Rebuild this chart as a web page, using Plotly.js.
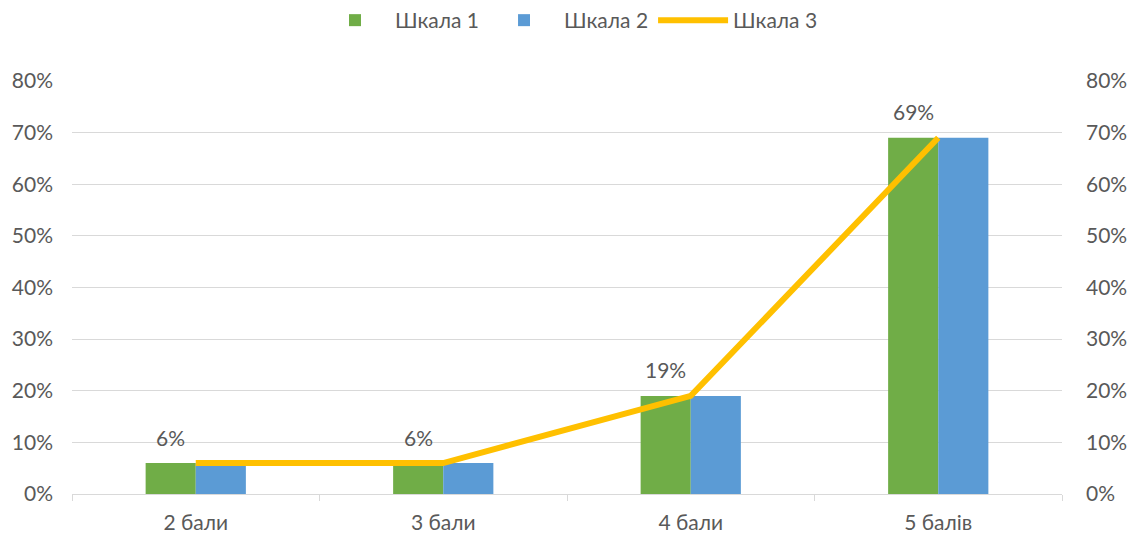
<!DOCTYPE html>
<html>
<head>
<meta charset="utf-8">
<script src="https://cdn.plot.ly/plotly-3.0.1.min.js"></script>
<style>html,body{margin:0;padding:0;background:#fff;}#chart{width:1138px;height:538px;}</style>
</head>
<body>
<div id="chart"></div>
<script>
const categories = ["2 бали", "3 бали", "4 бали", "5 балів"];
const scale1 = [0.06, 0.06, 0.19, 0.69];
const scale2 = [0.06, 0.06, 0.19, 0.69];
const scale3 = [0.06, 0.06, 0.19, 0.69];
const seriesNames = ["Шкала 1", "Шкала 2", "Шкала 3"];
const labels = ["6%", "6%", "19%", "69%"];

const FONT = "Lato, Carlito, 'Open Sans', sans-serif";
const FS = 21;
const TXT = "#595959";
const GRID = "#D9D9D9";

const traces = [
  {type: "bar", name: seriesNames[0], x: categories, y: scale1, marker: {color: "#70AD47"}, hoverinfo: "skip"},
  {type: "bar", name: seriesNames[1], x: categories, y: scale2, marker: {color: "#5B9BD5"}, hoverinfo: "skip"},
  {type: "scatter", mode: "lines", name: seriesNames[2], x: categories, y: scale3, yaxis: "y2",
   line: {color: "#FFC000", width: 6}, hoverinfo: "skip"}
];

const annotations = categories.map((c, i) => ({
  x: c, y: scale1[i], xref: "x", yref: "y", text: labels[i], showarrow: false,
  xshift: -25, yshift: 26, yanchor: "middle", font: {family: FONT, size: FS, color: TXT}
}));

const axisY = {
  range: [0, 0.8], tickvals: [0, 0.1, 0.2, 0.3, 0.4, 0.5, 0.6, 0.7, 0.8], tickformat: ".0%",
  showgrid: true, gridcolor: GRID, gridwidth: 1, zeroline: false, showline: false, ticks: "",
  tickfont: {family: FONT, size: FS, color: TXT}, fixedrange: true
};

const layout = {
  width: 1138, height: 538,
  margin: {l: 72, r: 76, t: 81, b: 44},
  paper_bgcolor: "#fff", plot_bgcolor: "#fff",
  font: {family: FONT, size: FS, color: TXT},
  barmode: "group", bargap: 0.595, bargroupgap: 0,
  showlegend: true,
  legend: {orientation: "h", xref: "container", x: 0.5, xanchor: "center", yref: "container", y: 1, yanchor: "top",
           font: {family: FONT, size: FS, color: TXT}, traceorder: "normal", itemwidth: 70},
  xaxis: {
    type: "category", showgrid: false, zeroline: false, showline: true, linecolor: GRID, linewidth: 1,
    ticks: "outside", tickson: "boundaries", ticklen: 6, tickcolor: GRID,
    tickfont: {family: FONT, size: FS, color: TXT}, ticklabelstandoff: 10, fixedrange: true
  },
  yaxis: Object.assign({}, axisY, {ticklabelstandoff: 18}),
  yaxis2: Object.assign({}, axisY, {overlaying: "y", side: "right", showgrid: false, ticklabelstandoff: 23}),
  annotations: annotations
};

Plotly.newPlot("chart", traces, layout, {displayModeBar: false, staticPlot: true});
</script>
</body>
</html>
